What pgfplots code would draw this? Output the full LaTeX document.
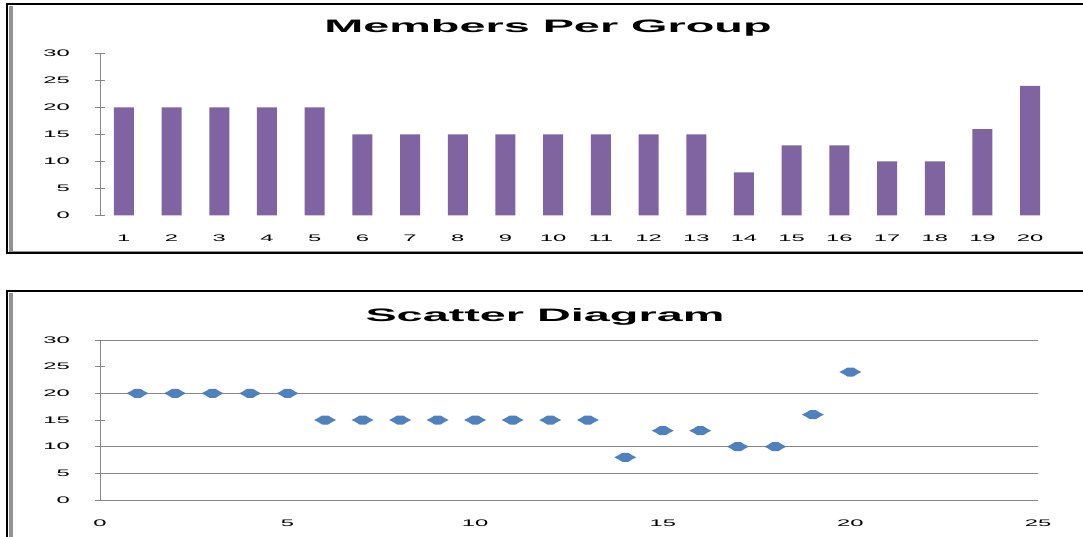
\documentclass[border=0pt]{standalone}
\usepackage{pgfplots}
\pgfplotsset{compat=1.18}
\usepackage{pgfplotstable}
\usepackage{fontspec}
\setmainfont{Liberation Sans}
\newfontfamily\tickf[FakeStretch=2.5]{Liberation Sans}
\newfontfamily\titlef[FakeStretch=2.6]{Liberation Sans}
\definecolor{barpurple}{HTML}{8064A2}
\definecolor{axgray}{HTML}{868686}
\definecolor{ptblue}{HTML}{4F81BD}
\pgfdeclareplotmark{flatdiamond}{%
  \pgfpathmoveto{\pgfqpoint{-11pt}{0pt}}%
  \pgfpathlineto{\pgfqpoint{-7pt}{2pt}}%
  \pgfpathlineto{\pgfqpoint{-3pt}{4.5pt}}%
  \pgfpathlineto{\pgfqpoint{3pt}{4.5pt}}%
  \pgfpathlineto{\pgfqpoint{7pt}{2pt}}%
  \pgfpathlineto{\pgfqpoint{11pt}{0pt}}%
  \pgfpathlineto{\pgfqpoint{7pt}{-2pt}}%
  \pgfpathlineto{\pgfqpoint{3pt}{-4.5pt}}%
  \pgfpathlineto{\pgfqpoint{-3pt}{-4.5pt}}%
  \pgfpathlineto{\pgfqpoint{-7pt}{-2pt}}%
  \pgfpathclose
  \pgfusepathqfill}
\pgfplotstableread{
x y
1 20
2 20
3 20
4 20
5 20
6 15
7 15
8 15
9 15
10 15
11 15
12 15
13 15
14 8
15 13
16 13
17 10
18 10
19 16
20 24
}\members
\pgfplotsset{
  commonstyle/.style={
    scale only axis,
    anchor=south west,
    ymin=0, ymax=30,
    ytick={0,5,...,30},
    tick align=outside,
    axis y line=left,
    axis x line=bottom,
    axis line style={-, axgray, line width=1pt},
    major tick length=10pt,
    minor tick length=4pt,
    tick style={axgray, line width=1pt},
    xtick style={draw=none},
    /pgf/number format/assume math mode=true,
    tick label style={font=\tickf\fontsize{9.5}{11}\selectfont, black},
    yticklabel style={anchor=east, inner sep=0pt, xshift=-25pt},
    xticklabel style={anchor=center, inner sep=0pt, yshift=-18pt},
  }
}
\begin{document}
\begin{tikzpicture}[x=1pt,y=1pt]
\useasboundingbox (0,0) rectangle (1083,536);
\clip (0,0) rectangle (1083,536);
\fill[white] (0,0) rectangle (1083,536);
% frames
\draw[axgray!90, line width=4pt] (10.5,530) -- (10.5,284);
\draw[axgray!90, line width=1.5pt] (9,284.5) -- (1090,284.5);
\draw[black, line width=2.5pt] (1090,532) -- (7,532) -- (7,283) -- (1090,283);
\draw[axgray!90, line width=4pt] (10.5,243) -- (10.5,-5);
\draw[black, line width=2.5pt] (1090,245) -- (7,245) -- (7,-5);
% titles
\node[font=\titlef\bfseries\fontsize{18}{20}\selectfont, anchor=base] at (548,503) {Members Per Group};
\node[font=\titlef\bfseries\fontsize{18}{20}\selectfont, anchor=base] at (545,215) {Scatter Diagram};
% bar chart
\begin{axis}[commonstyle,
  at={(100pt,320.5pt)}, width=954pt, height=162pt,
  xmin=0.5, xmax=20.5,
  x axis line style={draw=none},
  xtick={1,...,20},
  minor xtick={0.5,1.5,...,20.5},
]
\addplot[ybar, bar width=20pt, fill=barpurple, draw=none] table[x=x,y=y] {\members};
\end{axis}
% scatter
\begin{axis}[commonstyle,
  at={(100pt,36pt)}, width=938pt, height=160pt,
  xmin=0, xmax=25,
  xtick={0,5,...,25},
  minor xtick={0,5,...,25},
  major grid style={axgray, line width=1pt},
  extra y ticks={5,10,20,30},
  extra y tick labels={},
  extra y tick style={grid=major},
]
\addplot[only marks, mark=flatdiamond, color=ptblue] table[x=x,y=y] {\members};
\end{axis}
\end{tikzpicture}
\end{document}
